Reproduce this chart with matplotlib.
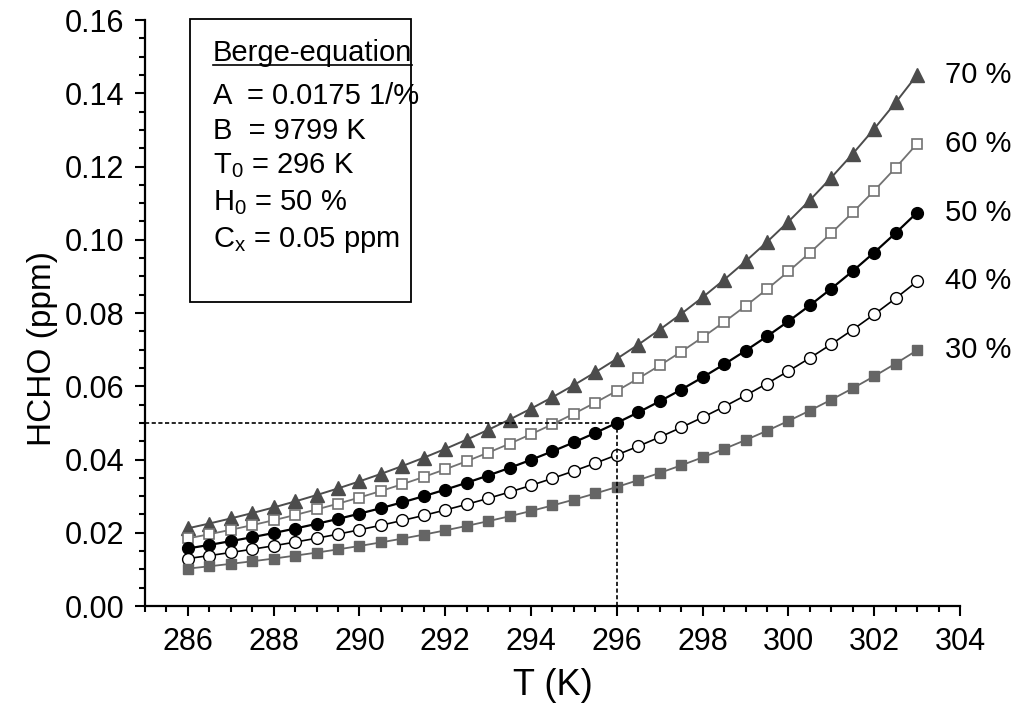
import matplotlib
matplotlib.use("Agg")
import matplotlib.pyplot as plt
from matplotlib.lines import Line2D
from matplotlib.patches import Rectangle

plt.rcParams['font.family'] = ['Liberation Sans', 'DejaVu Sans']
plt.rcParams['mathtext.fontset'] = 'custom'
plt.rcParams['mathtext.rm'] = 'Liberation Sans'
plt.rcParams['mathtext.it'] = 'Liberation Sans'

# temperature grid (K)
T = [286.0, 286.5, 287.0, 287.5, 288.0, 288.5, 289.0, 289.5, 290.0, 290.5,
     291.0, 291.5, 292.0, 292.5, 293.0, 293.5, 294.0, 294.5, 295.0, 295.5,
     296.0, 296.5, 297.0, 297.5, 298.0, 298.5, 299.0, 299.5, 300.0, 300.5,
     301.0, 301.5, 302.0, 302.5, 303.0]

# HCHO (ppm) per relative humidity
h70 = [0.02121, 0.02252, 0.02391, 0.02537, 0.02691, 0.02855, 0.03028, 0.03210,
       0.03403, 0.03607, 0.03822, 0.04049, 0.04289, 0.04543, 0.04810, 0.05091,
       0.05389, 0.05702, 0.06033, 0.06383, 0.06750, 0.07137, 0.07547, 0.07976,
       0.08429, 0.08907, 0.09410, 0.09939, 0.10495, 0.11082, 0.11699, 0.12347,
       0.13030, 0.13748, 0.14503]
h60 = [0.01846, 0.01960, 0.02081, 0.02208, 0.02342, 0.02485, 0.02636, 0.02794,
       0.02962, 0.03140, 0.03326, 0.03524, 0.03733, 0.03954, 0.04187, 0.04431,
       0.04691, 0.04963, 0.05251, 0.05555, 0.05875, 0.06212, 0.06568, 0.06942,
       0.07337, 0.07753, 0.08190, 0.08650, 0.09134, 0.09646, 0.10183, 0.10747,
       0.11341, 0.11966, 0.12623]
h50 = [0.01571, 0.01668, 0.01771, 0.01879, 0.01993, 0.02115, 0.02243, 0.02378,
       0.02521, 0.02672, 0.02831, 0.02999, 0.03177, 0.03365, 0.03563, 0.03771,
       0.03992, 0.04224, 0.04469, 0.04728, 0.05000, 0.05287, 0.05590, 0.05908,
       0.06244, 0.06598, 0.06970, 0.07362, 0.07774, 0.08209, 0.08666, 0.09146,
       0.09652, 0.10184, 0.10743]
h40 = [0.01296, 0.01376, 0.01461, 0.01550, 0.01644, 0.01745, 0.01850, 0.01962,
       0.02080, 0.02204, 0.02336, 0.02474, 0.02621, 0.02776, 0.02939, 0.03111,
       0.03293, 0.03485, 0.03687, 0.03901, 0.04125, 0.04362, 0.04612, 0.04874,
       0.05151, 0.05443, 0.05750, 0.06074, 0.06414, 0.06772, 0.07149, 0.07545,
       0.07963, 0.08402, 0.08863]
h30 = [0.01021, 0.01084, 0.01151, 0.01221, 0.01295, 0.01375, 0.01458, 0.01546,
       0.01639, 0.01737, 0.01840, 0.01949, 0.02065, 0.02187, 0.02316, 0.02451,
       0.02595, 0.02746, 0.02905, 0.03073, 0.03250, 0.03437, 0.03634, 0.03840,
       0.04059, 0.04289, 0.04531, 0.04785, 0.05053, 0.05336, 0.05633, 0.05945,
       0.06274, 0.06620, 0.06983]

labels = ['70 %', '60 %', '50 %', '40 %', '30 %']

# reference point
T0 = 296
Cx = 0.05

fig = plt.figure(figsize=(10.13, 7.17), dpi=100)
ax = fig.add_axes([0.1431, 0.1548, 0.8046, 0.8173])

ax.plot(T, h70, '-', color='#4c4c4c', lw=1.4, marker='^', ms=9.5,
        mfc='#4c4c4c', mec='#4c4c4c')
ax.plot(T, h60, '-', color='#727272', lw=1.3, marker='s', ms=7.5,
        mfc='white', mec='#727272', mew=1.2)
ax.plot(T, h50, '-', color='black', lw=1.6, marker='o', ms=8.5,
        mfc='black', mec='black')
ax.plot(T, h40, '-', color='black', lw=1.2, marker='o', ms=8.5,
        mfc='white', mec='black', mew=1.0)
ax.plot(T, h30, '-', color='#656565', lw=1.3, marker='s', ms=7.5,
        mfc='#656565', mec='#656565')

# dashed guides to (T0, Cx)
ax.plot([285, T0], [Cx, Cx], color='black', lw=1.2, ls=(0, (2.5, 1.5)))
ax.plot([T0, T0], [0, Cx], color='black', lw=1.2, ls=(0, (2.5, 1.5)))

for lab, s in zip(labels, [h70, h60, h50, h40, h30]):
    ax.text(303.65, s[-1], lab, fontsize=21, va='center', ha='left')

ax.set_xlim(285, 304)
ax.set_ylim(0, 0.16)
ax.set_xticks([286, 288, 290, 292, 294, 296, 298, 300, 302, 304])
ax.set_xticks([285 + 0.5 * i for i in range(39)], minor=True)
ax.set_yticks([0.00, 0.02, 0.04, 0.06, 0.08, 0.10, 0.12, 0.14, 0.16])
ax.set_yticklabels(['0.00', '0.02', '0.04', '0.06', '0.08', '0.10', '0.12', '0.14', '0.16'])
ax.set_yticks([0.005 * i for i in range(33)], minor=True)

for sp in ['top', 'right']:
    ax.spines[sp].set_visible(False)
for sp in ['left', 'bottom']:
    ax.spines[sp].set_linewidth(1.6)

ax.tick_params(which='major', direction='out', length=7, width=1.5,
               labelsize=22, pad=8)
ax.tick_params(which='minor', direction='out', length=4.5, width=1.5)

ax.set_xlabel('T (K)', fontsize=26, labelpad=8)
ax.set_ylabel('HCHO (ppm)', fontsize=24)
ax.yaxis.set_label_coords(-0.107, 0.44)

# parameter box
W, H = 1013.0, 717.0
fig.patches.append(Rectangle((190 / W, 1 - 302 / H), 221 / W, 283 / H,
                             transform=fig.transFigure, fill=False,
                             edgecolor='black', lw=1.3))
box_lines = ['Berge-equation', 'A  = 0.0175 1/%', 'B  = 9799 K',
             'T$_0$ = 296 K', 'H$_0$ = 50 %', 'C$_x$ = 0.05 ppm']
ys = [53, 96, 131, 166, 203, 240]
texts = []
for s, y in zip(box_lines, ys):
    texts.append(fig.text(213 / W, 1 - y / H, s, fontsize=21,
                          va='center', ha='left'))

fig.canvas.draw()
bb = texts[0].get_window_extent()
uy = (bb.y0 + 2) / (fig.dpi * fig.get_figheight())
fig.lines.append(Line2D([bb.x0 / (fig.dpi * fig.get_figwidth()),
                         bb.x1 / (fig.dpi * fig.get_figwidth())], [uy, uy],
                        transform=fig.transFigure, color='black', lw=1.2))

fig.savefig('out.png', dpi=100)
